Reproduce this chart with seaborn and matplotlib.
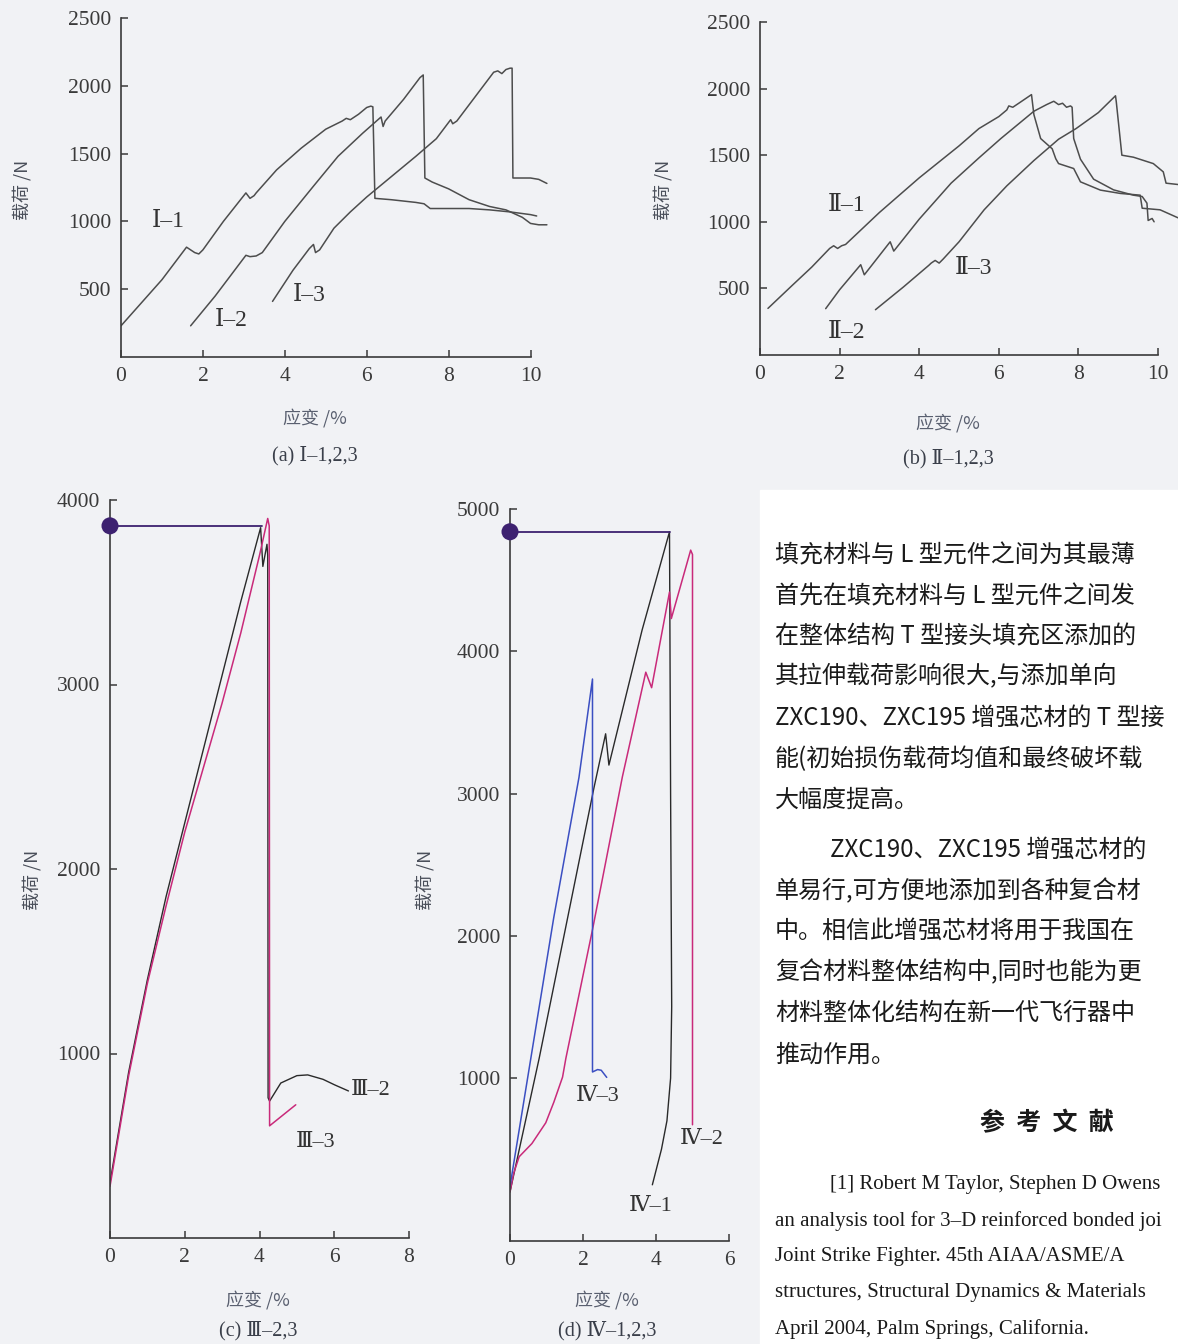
import matplotlib
matplotlib.use('Agg')
import matplotlib.pyplot as plt
import seaborn as sns
from matplotlib.patches import Rectangle

# (a) I-1,2,3  strain (%) vs load (N)
i1_x = [0.0, 0.5, 1.0, 1.6, 1.7, 1.8, 1.9, 2.0, 2.5, 3.05, 3.15, 3.25, 3.3, 3.8, 4.4,
        5.0, 5.4, 5.5, 5.6, 5.8, 6.0, 6.1, 6.15, 6.2, 6.6, 7.2, 7.4, 7.55, 8.0, 8.5,
        9.0, 9.5, 10.0, 10.15]
i1_y = [230, 400, 570, 810, 790, 770, 760, 790, 1000, 1210, 1170, 1190, 1210, 1380, 1540,
        1680, 1740, 1760, 1750, 1790, 1840, 1850, 1845, 1170, 1160, 1140, 1130, 1095, 1095, 1095,
        1085, 1070, 1050, 1040]
i2_x = [1.7, 2.3, 2.9, 3.05, 3.15, 3.3, 3.45, 4.0, 4.7, 5.3, 5.9, 6.35, 6.4, 6.45, 6.9,
        7.3, 7.38, 7.42, 7.6, 8.0, 8.5, 9.0, 9.4, 9.8, 10.0, 10.2, 10.4]
i2_y = [230, 450, 690, 750, 740, 745, 770, 1000, 1260, 1480, 1650, 1770, 1700, 1740, 1900,
        2060, 2080, 1320, 1290, 1240, 1160, 1110, 1085, 1030, 985, 975, 975]
i3_x = [3.7, 4.2, 4.6, 4.7, 4.75, 4.85, 5.2, 5.6, 6.0, 6.6, 7.2, 7.7, 8.05, 8.1, 8.2,
        8.6, 9.1, 9.2, 9.3, 9.4, 9.5, 9.55, 9.57, 10.0, 10.2, 10.4]
i3_y = [410, 640, 800, 830, 770, 790, 950, 1070, 1180, 1330, 1480, 1610, 1750, 1720, 1740,
        1900, 2100, 2110, 2090, 2120, 2130, 2130, 1320, 1320, 1310, 1280]

# (b) II-1,2,3
ii1_x = [0.2, 0.8, 1.3, 1.75, 1.85, 1.95, 2.05, 2.15, 3.0, 4.0, 5.0, 5.5, 6.0, 6.2, 6.25,
         6.35, 6.5, 6.82, 6.88, 7.05, 7.34, 7.43, 7.5, 7.88, 8.05, 8.55, 9.05, 9.55, 9.6,
         10.05, 10.5]
ii1_y = [350, 520, 660, 800, 820, 800, 820, 830, 1070, 1330, 1570, 1700, 1790, 1840, 1870,
         1860, 1890, 1955, 1805, 1625, 1548, 1473, 1437, 1400, 1300, 1238, 1213, 1200, 1102,
         1090, 1030]
ii2_x = [1.65, 2.0, 2.53, 2.62, 3.27, 3.36, 4.0, 4.8, 5.5, 6.05, 6.88, 7.2, 7.38, 7.5, 7.6,
         7.7, 7.8, 7.84, 7.88, 8.05, 8.38, 8.88, 9.38, 9.6, 9.72, 9.75, 9.85, 9.9]
ii2_y = [348, 490, 678, 602, 850, 780, 1020, 1290, 1480, 1625, 1830, 1880, 1905, 1880, 1890,
         1860, 1870, 1860, 1625, 1470, 1320, 1240, 1200, 1190, 1140, 1010, 1025, 1000]
ii3_x = [2.9, 3.6, 4.24, 4.3, 4.4, 4.5, 4.6, 5.0, 5.63, 6.2, 6.88, 7.5, 7.94, 8.5, 8.93,
         8.95, 9.09, 9.38, 9.88, 10.13, 10.2, 10.5]
ii3_y = [340, 510, 673, 690, 710, 690, 720, 850, 1090, 1270, 1460, 1620, 1700, 1820, 1946,
         1900, 1500, 1485, 1437, 1375, 1290, 1280]

# (c) III-2,3
iii2_x = [0.0, 0.5, 1.0, 1.5, 2.0, 2.5, 3.0, 3.5, 4.03, 4.09, 4.2, 4.22, 4.23, 4.27, 4.57,
          5.0, 5.29, 5.7, 6.01, 6.38]
iii2_y = [300, 900, 1400, 1850, 2250, 2650, 3050, 3450, 3850, 3640, 3760, 3700, 760, 742, 840,
          880, 884, 860, 830, 797]
iii3_x = [0.0, 0.5, 1.0, 1.5, 2.0, 2.5, 3.0, 3.5, 4.0, 4.22, 4.26, 4.27, 4.97]
iii3_y = [280, 880, 1380, 1800, 2200, 2550, 2900, 3280, 3700, 3900, 3860, 608, 722]
c_mark_x = [0.0, 4.06]
c_mark_y = [3860, 3860]

# (d) IV-1,2,3
iv1_x = [0.0, 0.8, 2.3, 2.62, 2.71, 3.62, 4.37, 4.40, 4.43, 4.40, 4.30, 4.15, 3.9]
iv1_y = [200, 1140, 3040, 3420, 3200, 4150, 4840, 3000, 1500, 1000, 700, 500, 250]
iv2_x = [0.0, 0.1, 0.25, 0.6, 0.98, 1.2, 1.44, 1.53, 2.26, 3.08, 3.72, 3.88, 4.37, 4.42,
         4.95, 5.0, 5.0]
iv2_y = [200, 330, 447, 540, 686, 830, 1007, 1138, 2043, 3119, 3853, 3744, 4416, 4230,
         4711, 4680, 672]
iv3_x = [0.0, 0.57, 1.2, 1.89, 2.26, 2.26, 2.4, 2.5, 2.65]
iv3_y = [240, 1138, 2130, 3114, 3805, 1043, 1060, 1055, 1005]
d_mark_x = [0.0, 4.37]
d_mark_y = [4840, 4840]

text_lines = ['填充材料与 L 型元件之间为其最薄',
              '首先在填充材料与 L 型元件之间发',
              '在整体结构 T 型接头填充区添加的',
              '其拉伸载荷影响很大,与添加单向',
              'ZXC190、ZXC195 增强芯材的 T 型接',
              '能(初始损伤载荷均值和最终破坏载',
              '大幅度提高。',
              'ZXC190、ZXC195 增强芯材的',
              '单易行,可方便地添加到各种复合材',
              '中。相信此增强芯材将用于我国在',
              '复合材料整体结构中,同时也能为更',
              '材料整体化结构在新一代飞行器中',
              '推动作用。']
ref_lines = ['[1] Robert M Taylor, Stephen D Owens',
             'an analysis tool for 3\u2013D reinforced bonded joi',
             'Joint Strike Fighter. 45th AIAA/ASME/A',
             'structures, Structural Dynamics & Materials',
             'April 2004, Palm Springs, California.']

W, H = 1178, 1344
BG = '#f1f2f5'
GREY = '#4d4d4d'
BLACK = '#2a2a2a'
MAGENTA = '#c92a7a'
BLUE = '#3b4fc2'
PURPLE = '#3d2170'
SERIF = ['Liberation Serif', 'DejaVu Serif', 'Noto Sans CJK SC']
CJK = ['Noto Sans CJK SC', 'DejaVu Sans']

sns.set_style('ticks')
plt.rcParams['font.family'] = SERIF
plt.rcParams['xtick.direction'] = 'in'
plt.rcParams['ytick.direction'] = 'in'

fig = plt.figure(figsize=(W / 100, H / 100), dpi=100, facecolor=BG)
fig.patches.append(Rectangle((760 / W, 0), 1 - 760 / W, 1 - 490 / H,
                             transform=fig.transFigure, color='white', zorder=0))


def add_ax(left, top, right, bottom):
    return fig.add_axes([left / W, 1 - bottom / H, (right - left) / W, (bottom - top) / H])


def fpos(x, y):
    return x / W, 1 - y / H


def curve(ax, x, y, color, lw=1.1):
    sns.lineplot(x=x, y=y, sort=False, estimator=None, color=color, linewidth=lw, ax=ax)


def style(ax, xlim, ylim, xticks, yticks, xend=None, size=15.5):
    ax.set_facecolor('none')
    ax.set_xlim(*xlim)
    ax.set_ylim(*ylim)
    ax.set_xticks(xticks)
    ax.set_yticks(yticks)
    sns.despine(ax=ax)
    for s in ['left', 'bottom']:
        ax.spines[s].set_color('#3a3a3a')
        ax.spines[s].set_linewidth(1.2)
    if xend is not None:
        ax.spines['bottom'].set_bounds(0, xend)
    ax.tick_params(length=5, width=1.1, colors='#3a3a3a', labelsize=size, pad=7)
    ax.set_xlabel('')
    ax.set_ylabel('')


# ---- (a)
ax = add_ax(121, 18, 551, 357)
curve(ax, i1_x, i1_y, GREY)
curve(ax, i2_x, i2_y, GREY)
curve(ax, i3_x, i3_y, GREY)
style(ax, (0, 10.5), (0, 2500), [0, 2, 4, 6, 8, 10], [500, 1000, 1500, 2000, 2500], xend=10)
ax.text(0.75, 1000, 'Ⅰ\u20131', fontsize=17, color='#333', va='center')
ax.text(2.3, 270, 'Ⅰ\u20132', fontsize=17, color='#333', va='center')
ax.text(4.2, 450, 'Ⅰ\u20133', fontsize=17, color='#333', va='center')

# ---- (b)
ax = add_ax(760, 22, 1178, 355)
curve(ax, ii1_x, ii1_y, GREY)
curve(ax, ii2_x, ii2_y, GREY)
curve(ax, ii3_x, ii3_y, GREY)
style(ax, (0, 10.5), (0, 2500), [0, 2, 4, 6, 8, 10], [500, 1000, 1500, 2000, 2500], xend=10)
ax.text(1.7, 1120, 'Ⅱ\u20131', fontsize=17, color='#333', va='center')
ax.text(1.7, 170, 'Ⅱ\u20132', fontsize=17, color='#333', va='center')
ax.text(4.9, 650, 'Ⅱ\u20133', fontsize=17, color='#333', va='center')

# ---- (c)
ax = add_ax(110, 500, 409, 1238)
curve(ax, iii2_x, iii2_y, BLACK, 1.0)
curve(ax, iii3_x, iii3_y, MAGENTA, 1.1)
curve(ax, c_mark_x, c_mark_y, PURPLE, 1.3)
sns.scatterplot(x=c_mark_x[:1], y=c_mark_y[:1], s=150, color=PURPLE, ax=ax,
                clip_on=False, zorder=5, edgecolor='none')
style(ax, (0, 8), (0, 4000), [0, 2, 4, 6, 8], [1000, 2000, 3000, 4000])
ax.text(6.45, 797, 'Ⅲ\u20132', fontsize=16, color='#333', va='center')
ax.text(5.5, 520, 'Ⅲ\u20133', fontsize=16, color='#333', va='center', ha='center')

# ---- (d)
ax = add_ax(510, 509, 729, 1241)
curve(ax, iv1_x, iv1_y, BLACK, 1.0)
curve(ax, iv2_x, iv2_y, MAGENTA, 1.1)
curve(ax, iv3_x, iv3_y, BLUE, 1.1)
curve(ax, d_mark_x, d_mark_y, PURPLE, 1.3)
sns.scatterplot(x=d_mark_x[:1], y=d_mark_y[:1], s=150, color=PURPLE, ax=ax,
                clip_on=False, zorder=5, edgecolor='none')
style(ax, (0, 6), (-145, 5000), [0, 2, 4, 6], [1000, 2000, 3000, 4000, 5000])
ax.text(2.4, 870, 'Ⅳ\u20133', fontsize=16, color='#333', va='center', ha='center')
ax.text(5.25, 566, 'Ⅳ\u20132', fontsize=16, color='#333', va='center', ha='center')
ax.text(3.85, 100, 'Ⅳ\u20131', fontsize=16, color='#333', va='center', ha='center')

# ---- axis titles and captions
ylab = [(22, 190), (663, 190), (32, 880), (425, 880)]
xlab = [(315, 418), (948, 423), (258, 1300), (607, 1300)]
caps = ['(a) Ⅰ\u20131,2,3', '(b) Ⅱ\u20131,2,3', '(c) Ⅲ\u20132,3', '(d) Ⅳ\u20131,2,3']
capy = [456, 459, 1331, 1331]
for (yx, yy), (xx, xy), cap, cy in zip(ylab, xlab, caps, capy):
    fig.text(*fpos(yx, yy), '载荷 /N', rotation=90, family=CJK, fontsize=13,
             color='#4a4f5a', ha='center', va='center')
    fig.text(*fpos(xx, xy), '应变 /%', family=CJK, fontsize=13, style='italic',
             color='#5a6070', ha='center', va='center')
    fig.text(*fpos(xx, cy), cap, fontsize=14.5, color='#3a3f4a', ha='center', va='center')

# ---- body text on the right
line_y = [555, 596, 636, 676, 718, 759, 800, 850, 891, 931, 972, 1013, 1055]
for i, (t, y) in enumerate(zip(text_lines, line_y)):
    x = 830 if i == 7 else 775
    fig.text(*fpos(x, y), t, family=CJK, fontsize=17.3, color='#1a1a1a', va='center', ha='left')
fig.text(*fpos(1047, 1123), '参  考  文  献', family=CJK, fontsize=18, fontweight='bold',
         color='#1a1a1a', va='center', ha='center')
ref_y = [1185, 1221, 1257, 1293, 1329]
for i, (t, y) in enumerate(zip(ref_lines, ref_y)):
    x = 830 if i == 0 else 775
    fig.text(*fpos(x, y), t, family=SERIF, fontsize=15, color='#1a1a1a', va='center', ha='left')

fig.savefig('out.png', dpi=100, facecolor=BG)
